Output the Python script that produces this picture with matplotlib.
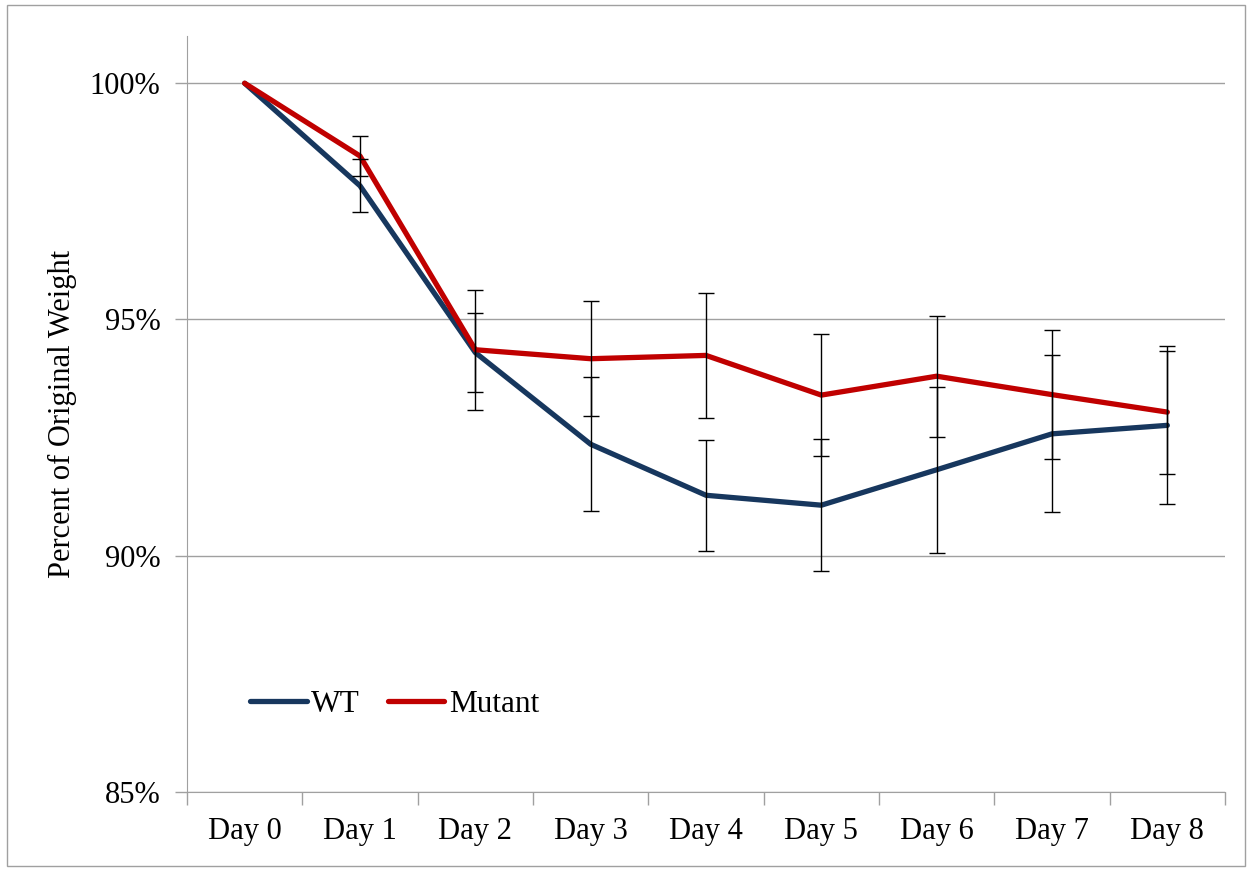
import numpy as np
import matplotlib.pyplot as plt
from matplotlib.patches import Rectangle
from matplotlib.ticker import FuncFormatter

days = ["Day 0", "Day 1", "Day 2", "Day 3", "Day 4", "Day 5", "Day 6", "Day 7", "Day 8"]
wt = [100.0, 97.83, 94.30, 92.36, 91.28, 91.07, 91.82, 92.58, 92.76]
wt_err = [0.0, 0.56, 0.83, 1.42, 1.18, 1.40, 1.76, 1.66, 1.67]
mutant = [100.0, 98.46, 94.36, 94.17, 94.24, 93.40, 93.80, 93.41, 93.04]
mutant_err = [0.0, 0.42, 1.27, 1.22, 1.32, 1.29, 1.28, 1.36, 1.30]

plt.rcParams['font.family'] = ['Liberation Serif', 'DejaVu Serif']

fig = plt.figure(figsize=(12.53, 8.69), dpi=100)
ax = fig.add_axes([187/1253, 1-792/869, (1225-187)/1253, (792-36)/869])

x = np.arange(len(days))
ax.plot(x, wt, color="#17375E", lw=3.8, label="WT", zorder=3, solid_capstyle="round")
ax.plot(x, mutant, color="#C00000", lw=3.8, label="Mutant", zorder=3, solid_capstyle="round")
ax.errorbar(x[1:], mutant[1:], yerr=mutant_err[1:], fmt="none", ecolor="black",
            elinewidth=1, capsize=6, capthick=1, zorder=4)
ax.errorbar(x[1:], wt[1:], yerr=wt_err[1:], fmt="none", ecolor="black",
            elinewidth=1, capsize=6, capthick=1, zorder=4)

ax.set_xlim(-0.5, 8.5)
ax.set_ylim(85, 101)
ax.set_yticks([85, 90, 95, 100])
ax.yaxis.set_major_formatter(FuncFormatter(lambda v, p: f"{v:.0f}%"))
ax.set_xticks(x)
ax.set_xticklabels(days)
ax.set_xticks(np.arange(-0.5, 9, 1), minor=True)
ax.tick_params(axis="x", which="major", length=0, labelsize=22, pad=18)
ax.tick_params(axis="x", which="minor", length=9, color="#A0A0A0", width=1)
ax.tick_params(axis="y", length=9, color="#A0A0A0", width=1, labelsize=22, pad=10)
ax.grid(axis="y", color="#A0A0A0", lw=1)
ax.set_axisbelow(True)
for s in ["top", "right"]:
    ax.spines[s].set_visible(False)
for s in ["left", "bottom"]:
    ax.spines[s].set_color("#A0A0A0")

ax.set_ylabel("Percent of Original Weight", fontsize=22, labelpad=9)

ax.legend(loc="lower left", bbox_to_anchor=(0.034, 0.06), ncol=2, frameon=False,
          fontsize=22.5, handlelength=1.8, handletextpad=0.15, columnspacing=0.9)

fig.patches.append(Rectangle((7/1253, 1-866/869), 1238/1253, 861/869, transform=fig.transFigure,
                             fill=False, edgecolor="#A0A0A0", lw=1))

fig.savefig("out.png", dpi=100)
